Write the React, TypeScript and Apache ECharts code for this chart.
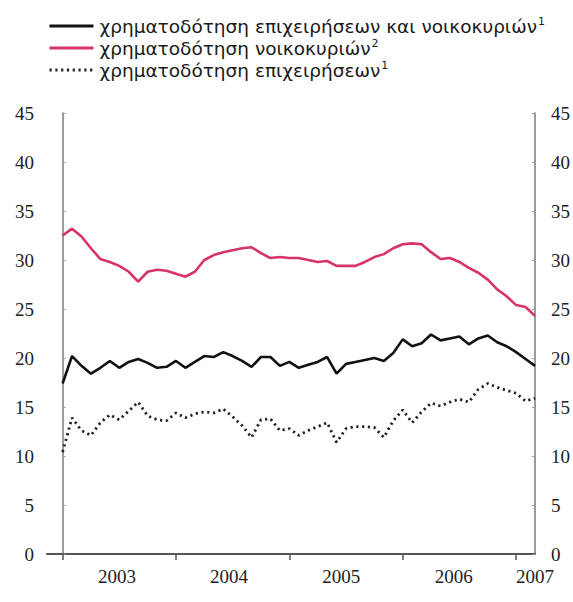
import React, { useEffect, useRef } from "react";
import * as echarts from "echarts";

const seriesNames = [
  "χρηματοδότηση επιχειρήσεων και νοικοκυριών",
  "χρηματοδότηση νοικοκυριών",
  "χρηματοδότηση επιχειρήσεων",
];
const seriesNotes = ["1", "2", "1"];

// monthly values, Jan 2003 (index 0) .. Mar 2007 (index 50)
const totalValues = [
  17.4, 20.2, 19.2, 18.4, 19.0, 19.7, 19.0, 19.6, 19.9, 19.5, 19.0, 19.1,
  19.7, 19.0, 19.6, 20.2, 20.1, 20.6, 20.2, 19.7, 19.1, 20.1, 20.1, 19.2,
  19.6, 19.0, 19.3, 19.6, 20.1, 18.4, 19.4, 19.6, 19.8, 20.0, 19.7, 20.5,
  21.9, 21.2, 21.5, 22.4, 21.8, 22.0, 22.2, 21.4, 22.0, 22.3, 21.6, 21.2,
  20.6, 19.9, 19.2,
];
const householdValues = [
  32.5, 33.2, 32.4, 31.2, 30.1, 29.8, 29.4, 28.8, 27.8, 28.8, 29.0, 28.9,
  28.6, 28.3, 28.8, 30.0, 30.5, 30.8, 31.0, 31.2, 31.3, 30.7, 30.2, 30.3,
  30.2, 30.2, 30.0, 29.8, 29.9, 29.4, 29.4, 29.4, 29.8, 30.3, 30.6, 31.2,
  31.6, 31.7, 31.6, 30.8, 30.1, 30.2, 29.8, 29.2, 28.7, 28.0, 27.0, 26.3,
  25.4, 25.2, 24.3,
];
const businessValues = [
  10.4, 13.9, 12.6, 12.1, 13.4, 14.2, 13.7, 14.6, 15.5, 14.1, 13.7, 13.6,
  14.4, 13.9, 14.3, 14.5, 14.4, 14.8, 14.0, 13.1, 11.9, 13.7, 13.8, 12.6,
  12.8, 12.1, 12.6, 13.0, 13.4, 11.4, 12.8, 13.0, 13.0, 12.9, 11.9, 13.6,
  14.7, 13.4, 14.5, 15.4, 15.1, 15.5, 15.8, 15.5, 16.8, 17.4, 17.0, 16.7,
  16.4, 15.6, 15.9,
];

const yearLabels = ["2003", "2004", "2005", "2006", "2007"];
const yearStartTicks = [0, 12, 24, 36, 48];
const yearLabelPositions = [5.75, 17.6, 29.5, 41.4, 50];
const yTicks = [0, 5, 10, 15, 20, 25, 30, 35, 40, 45];

const toPairs = (vals: number[]) => vals.map((v, i) => [i, v]);

export default function App() {
  const ref = useRef<HTMLDivElement>(null);
  useEffect(() => {
    if (!ref.current) return;
    const chart = echarts.init(ref.current, null, { renderer: "svg" });
    const serif = "Liberation Serif";
    const sans = "DejaVu Sans";
    const yAxisCommon = {
      type: "value" as const,
      min: 0,
      max: 45,
      interval: 5,
      splitLine: { show: false },
      axisLine: { show: true, lineStyle: { color: "#7a7a7a", width: 1.5 } },
      axisTick: { show: true, inside: true, length: 3, lineStyle: { color: "#9a9a9a" } },
      axisLabel: {
        fontFamily: serif,
        fontSize: 19,
        color: "#222",
        formatter: (v: number) => (yTicks.includes(v) ? String(v) : ""),
      },
    };
    chart.setOption({
      animation: false,
      backgroundColor: "#ffffff",
      legend: {
        orient: "vertical",
        left: 43,
        top: 11,
        itemWidth: 44,
        itemHeight: 20,
        itemGap: 2.5,
        itemStyle: { opacity: 0 },
        lineStyle: { width: 3 },
        textStyle: {
          fontFamily: sans,
          fontSize: 18.5,
          color: "#1a1a1a",
          padding: [0, 0, 0, 1],
          rich: {
            t: { fontFamily: sans, fontSize: 18.5, color: "#1a1a1a", lineHeight: 20 },
            s: {
              fontFamily: sans,
              fontSize: 11,
              color: "#1a1a1a",
              lineHeight: 20,
              verticalAlign: "top",
              padding: [0, 0, 8, 1],
            },
          },
        },
        formatter: (name: string) => {
          const idx = seriesNames.indexOf(name);
          return `{t|${name}}{s|${seriesNotes[idx]}}`;
        },
        data: seriesNames,
      },
      grid: { left: 47, right: 36.5, top: 113, bottom: 48, containLabel: false },
      xAxis: {
        type: "value",
        min: -1.65,
        max: 50,
        splitLine: { show: false },
        axisLine: { show: true, onZero: false, lineStyle: { color: "#555", width: 2 } },
        axisTick: {
          show: true,
          length: 6,
          customValues: yearStartTicks,
          lineStyle: { color: "#555", width: 1.5 },
        },
        axisLabel: {
          customValues: yearLabelPositions,
          fontFamily: serif,
          fontSize: 19,
          color: "#222",
          margin: 13,
          formatter: (v: number) => yearLabels[Math.min(4, Math.floor((v + 0.5) / 12))],
        },
      },
      yAxis: [
        { ...yAxisCommon, position: "left", axisLabel: { ...yAxisCommon.axisLabel, margin: 13 } },
        { ...yAxisCommon, position: "right", axisLabel: { ...yAxisCommon.axisLabel, margin: 16 } },
      ],
      series: [
        {
          name: seriesNames[0],
          type: "line",
          data: toPairs(totalValues),
          symbol: "none",
          lineStyle: { color: "#111", width: 2.6 },
          itemStyle: { color: "#111" },
        },
        {
          name: seriesNames[1],
          type: "line",
          data: toPairs(householdValues),
          symbol: "none",
          lineStyle: { color: "#d6336a", width: 2.6 },
          itemStyle: { color: "#d6336a" },
        },
        {
          name: seriesNames[2],
          type: "line",
          data: toPairs(businessValues),
          symbol: "none",
          lineStyle: { color: "#222", width: 2.8, type: [2.2, 3.6] },
          itemStyle: { color: "#222" },
        },
      ],
    });
    return () => chart.dispose();
  }, []);
  return (
    <div
      ref={ref}
      style={{ position: "fixed", left: 0, top: 0, width: 573, height: 602, background: "#fff" }}
    />
  );
}
